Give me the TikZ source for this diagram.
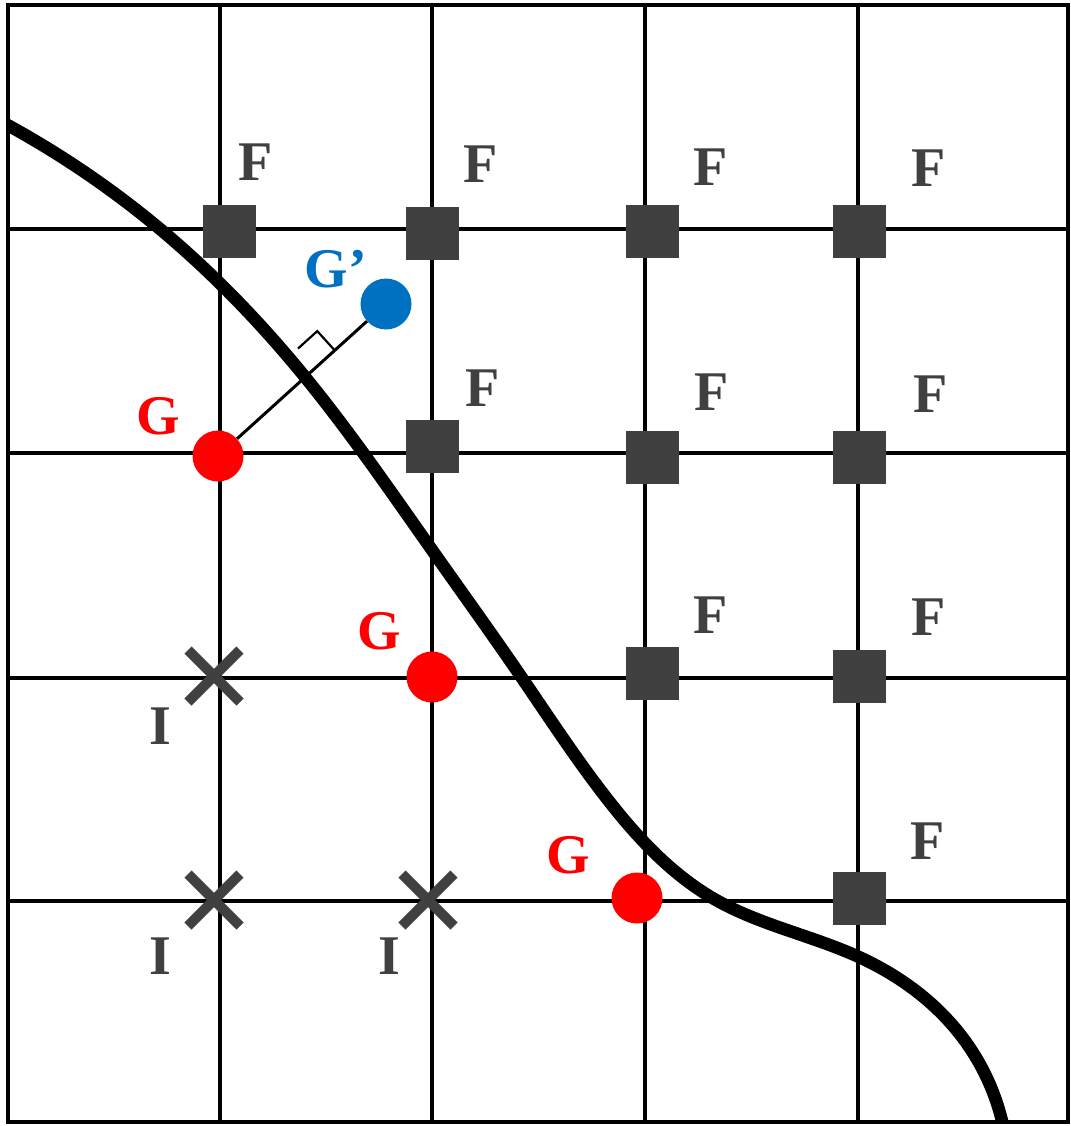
\documentclass[tikz,border=0pt]{standalone}
\usepackage{fontspec}
\setmainfont{Liberation Serif}
\usetikzlibrary{calc,shapes.misc,hobby}
\definecolor{dgray}{HTML}{404040}
\definecolor{gred}{HTML}{FF0000}
\definecolor{gblue}{HTML}{0070C0}
\begin{document}
\begin{tikzpicture}[x=1pt,y=-1pt,
  gridline/.style={line width=3.2pt, line cap=rect},
  fpt/.style={rectangle, fill=dgray, minimum size=53pt, inner sep=0pt},
  gpt/.style={circle, fill=gred, minimum size=51pt, inner sep=0pt},
  gppt/.style={circle, fill=gblue, minimum size=51pt, inner sep=0pt},
  ipt/.style={cross out, draw=dgray, line width=10pt, minimum size=42pt, inner sep=0pt},
  lbl/.style={font=\fontsize{56}{56}\selectfont\bfseries, inner sep=0pt},
  flbl/.style={lbl, text=dgray},
  glbl/.style={lbl, text=gred},
  gplbl/.style={lbl, text=gblue}]
\useasboundingbox (0,0) rectangle (1070,1126);
% grid
\foreach \x in {220,432,645,858} \draw[gridline] (\x,5) -- (\x,1122);
\foreach \y in {229,453,678,901} \draw[gridline] (8,\y) -- (1068,\y);
\draw[gridline] (8,5) rectangle (1068,1122);
% curve
\begin{scope}
\clip (8,5) rectangle (1068,1122);
\draw[line width=12.5pt, use Hobby shortcut] (2,122) .. (160,229) .. (305,377)
  .. (432,550) .. (522,678) .. (608,800) .. (716,900) .. (859,957)
  .. (959,1033) .. (1004,1130);
\end{scope}
% F points
\node[fpt] (f11) at (229,231) {};
\node[fpt] (f12) at (432,233) {};
\node[fpt] (f13) at (652,231) {};
\node[fpt] (f14) at (859,231) {};
\node[fpt] (f22) at (432,446) {};
\node[fpt] (f23) at (652,457) {};
\node[fpt] (f24) at (859,457) {};
\node[fpt] (f33) at (652,673) {};
\node[fpt] (f34) at (859,676) {};
\node[fpt] (f44) at (859,898) {};
\node[flbl] (lf11) at (256,162) {F};
\node[flbl] (lf12) at (481,164) {F};
\node[flbl] (lf13) at (711,167) {F};
\node[flbl] (lf14) at (929,168) {F};
\node[flbl] (lf22) at (483,388) {F};
\node[flbl] (lf23) at (712,392) {F};
\node[flbl] (lf24) at (931,394) {F};
\node[flbl] (lf33) at (711,615) {F};
\node[flbl] (lf34) at (929,617) {F};
\node[flbl] (lf44) at (928,841) {F};
% I points
\node[ipt] (i1) at (214,676) {};
\node[ipt] (i2) at (214,900) {};
\node[ipt] (i3) at (428,900) {};
\node[flbl] (li1) at (160,726) {I};
\node[flbl] (li2) at (160,956) {I};
\node[flbl] (li3) at (389,956) {I};
% G points
\node[gpt] (g1) at (218,456) {};
\node[gpt] (g2) at (432,677) {};
\node[gpt] (g3) at (637,898) {};
\node[gppt] (gp) at (386,304) {};
\node[glbl] (lg1) at (158,416) {G};
\node[glbl] (lg2) at (379,631) {G};
\node[glbl] (lg3) at (568,855) {G};
\node[gplbl] (lgp) at (336,269) {G’};
% connector G -- G'
\draw[line width=3pt] (g1) -- (gp);
% right angle mark
\coordinate (foot) at ($(g1.center)!0.58!(gp.center)$);
\coordinate (ra) at ($(foot)!26pt!(gp.center)$);
\coordinate (rb) at ($(foot)!26pt!90:(gp.center)$);
\draw[line width=2.2pt] (ra) -- ($(ra)+(rb)-(foot)$) -- (rb);
\end{tikzpicture}
\end{document}
